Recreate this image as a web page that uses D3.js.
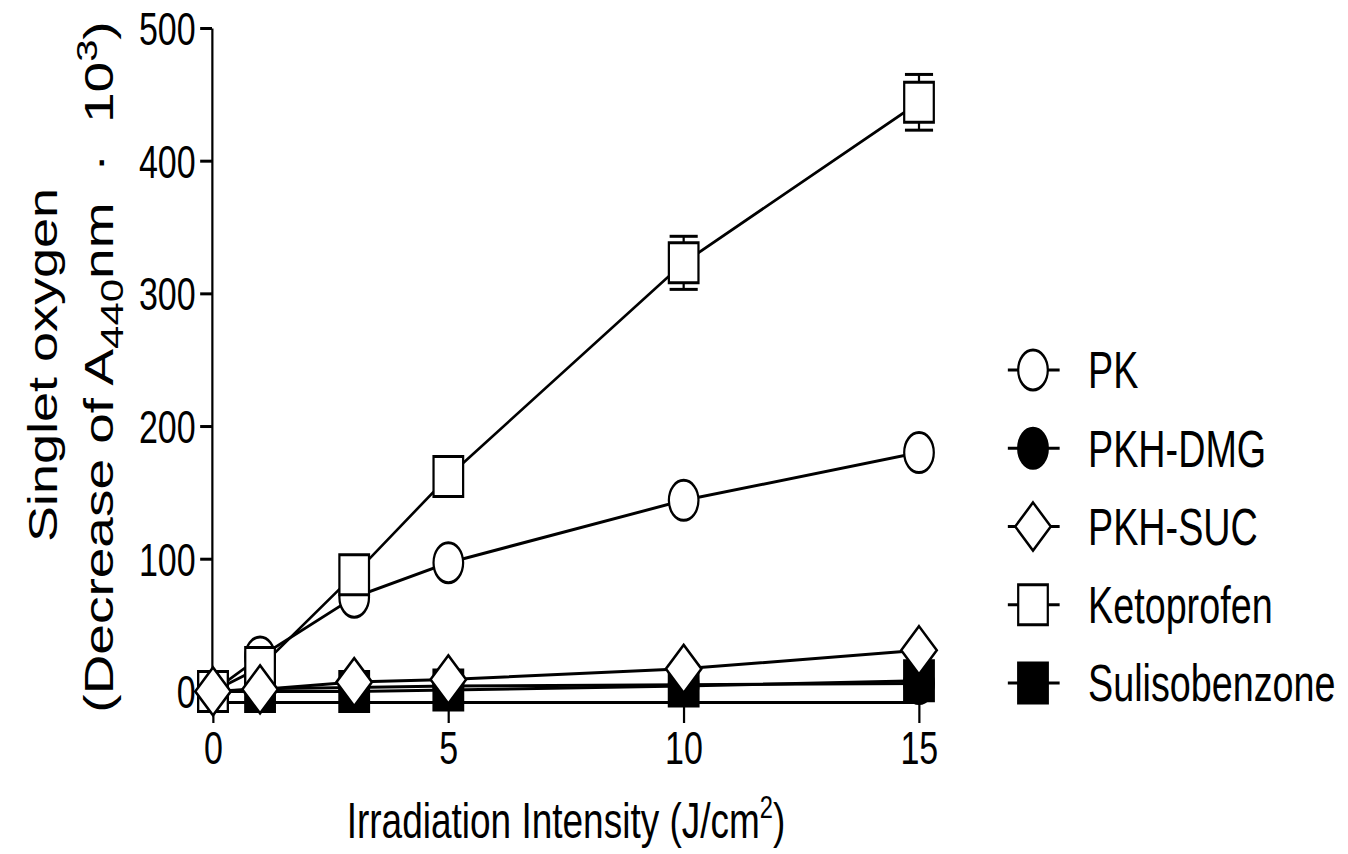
<!DOCTYPE html>
<html lang="en">
<head>
<meta charset="utf-8">
<title>Singlet oxygen</title>
<script src="https://cdnjs.cloudflare.com/ajax/libs/d3/7.8.5/d3.min.js"></script>
<style>
  body { margin: 0; background: #fff; }
  text { font-family: "Liberation Sans", Arial, sans-serif; fill: #000; }
</style>
</head>
<body>
<div id="chart"></div>
<script>
// irradiation intensity (J/cm2)
var xVals = [0, 1, 3, 5, 10, 15];
// decrease of A440nm x 10^3
var pk      = [0, 26, 71, 97, 144, 180];
var pkErr   = [0, 2, 3, 4, 5, 6];
var pkhDmg  = [0, 2, 3, 4, 5, 6];
var pkhSuc  = [0, 1.5, 7, 9, 17, 31];
var keto    = [0, 18, 88, 162, 323, 444];
var ketoErr = [0, 2, 3, 5, 20, 21];
var suliso  = [0, 0, 0, 1, 4, 8];
var seriesNames = ["PK", "PKH-DMG", "PKH-SUC", "Ketoprofen", "Sulisobenzone"];
var xTicks = [0, 5, 10, 15];
var yTicks = [0, 100, 200, 300, 400, 500];

var W = 1348, H = 854;
var sx = 0.74; // the whole figure is squeezed sideways

var series = [
  {name: seriesNames[0], values: pk,     err: pkErr, sym: d3.symbolCircle,   size: 1257, fill: "#fff"},
  {name: seriesNames[1], values: pkhDmg, err: null,  sym: d3.symbolCircle,   size: 1257, fill: "#000"},
  {name: seriesNames[2], values: pkhSuc, err: null,  sym: d3.symbolDiamond2, size: 1470, fill: "#fff"},
  {name: seriesNames[3], values: keto,   err: ketoErr, sym: d3.symbolSquare, size: 1600, fill: "#fff"},
  {name: seriesNames[4], values: suliso, err: null,  sym: d3.symbolSquare,   size: 1600, fill: "#000"}
];
// drawing order (bottom to top)
var drawOrder = [1, 4, 0, 3, 2];

var svg = d3.select("#chart").append("svg")
    .attr("width", W)
    .attr("height", H);

var g = svg.append("g").attr("transform", "scale(" + sx + ",1)");

var x = d3.scaleLinear().domain([0, 15]).range([213 / sx, 919 / sx]);
var y = d3.scaleLinear().domain([-8, 500]).range([702, 28]);

// axes
var yAxis = g.append("g")
    .attr("transform", "translate(" + (212 / sx) + ",0)")
    .call(d3.axisLeft(y).tickValues(yTicks).tickSize(16).tickSizeOuter(0).tickPadding(6));
var xAxis = g.append("g")
    .attr("transform", "translate(0," + y(-8) + ")")
    .call(d3.axisBottom(x).tickValues(xTicks).tickSize(21).tickSizeOuter(0).tickPadding(8));

[yAxis, xAxis].forEach(function(a) {
  a.selectAll("path, line").attr("stroke", "#000").attr("stroke-width", 3);
  a.selectAll("text")
    .style("font-family", "'Liberation Sans', Arial, sans-serif")
    .attr("font-size", 46)
    .attr("fill", "#000");
});
yAxis.selectAll("text").attr("dy", "0.36em");

// series
var line = d3.line()
    .x(function(d, i) { return x(xVals[i]); })
    .y(function(d) { return y(d); });

drawOrder.forEach(function(k) {
  var s = series[k];
  var sg = g.append("g");
  sg.append("path")
    .attr("d", line(s.values))
    .attr("fill", "none")
    .attr("stroke", "#000")
    .attr("stroke-width", 3);

  if (s.err) {
    var eb = sg.selectAll("g.err").data(s.values).enter().append("g");
    eb.append("line")
      .attr("x1", function(d, i) { return x(xVals[i]); })
      .attr("x2", function(d, i) { return x(xVals[i]); })
      .attr("y1", function(d, i) { return y(d - s.err[i]); })
      .attr("y2", function(d, i) { return y(d + s.err[i]); })
      .attr("stroke", "#000").attr("stroke-width", 3);
    [-1, 1].forEach(function(sign) {
      eb.append("line")
        .attr("x1", function(d, i) { return x(xVals[i]) - 19; })
        .attr("x2", function(d, i) { return x(xVals[i]) + 19; })
        .attr("y1", function(d, i) { return y(d + sign * s.err[i]); })
        .attr("y2", function(d, i) { return y(d + sign * s.err[i]); })
        .attr("stroke", "#000").attr("stroke-width", 3);
    });
  }

  sg.selectAll("path.pt").data(s.values).enter().append("path")
    .attr("class", "pt")
    .attr("d", d3.symbol().type(s.sym).size(s.size))
    .attr("transform", function(d, i) { return "translate(" + x(xVals[i]) + "," + y(d) + ")"; })
    .attr("fill", s.fill)
    .attr("stroke", "#000")
    .attr("stroke-width", 3);
});

// axis titles
var xt = g.append("text")
    .attr("x", (x(0) + x(15)) / 2)
    .attr("y", 838)
    .attr("text-anchor", "middle")
    .attr("font-size", 50);
xt.append("tspan").text("Irradiation Intensity (J/cm");
xt.append("tspan").attr("font-size", 32).attr("dy", -20).text("2");
xt.append("tspan").attr("dy", 20).text(")");

var yMid = (y(500) + y(-8)) / 2;
g.append("text")
    .attr("transform", "translate(" + (57 / sx) + "," + yMid + ") rotate(-90)")
    .attr("text-anchor", "middle")
    .attr("font-size", 54)
    .text("Singlet oxygen");

var yt = g.append("text")
    .attr("transform", "translate(" + (113 / sx) + "," + (yMid + 2) + ") rotate(-90)")
    .attr("text-anchor", "middle")
    .attr("font-size", 55);
yt.append("tspan").text("(Decrease of A");
yt.append("tspan").attr("font-size", 42).attr("dy", 13).text("440");
yt.append("tspan").attr("dy", -13).text("nm\u00A0\u00A0\u00B7\u00A0 10");
yt.append("tspan").attr("font-size", 40).attr("dy", -22).text("3");
yt.append("tspan").attr("dy", 22).text(")");

// legend
var legY = d3.scalePoint().domain(seriesNames).range([370, 683]);
var legX = 1033 / sx;
var leg = g.selectAll("g.leg").data(series).enter().append("g")
    .attr("transform", function(d) { return "translate(" + legX + "," + legY(d.name) + ")"; });
leg.append("line")
    .attr("x1", -34).attr("x2", 36)
    .attr("stroke", "#000").attr("stroke-width", 3);
leg.append("path")
    .attr("d", function(d) { return d3.symbol().type(d.sym).size(d.size)(); })
    .attr("fill", function(d) { return d.fill; })
    .attr("stroke", "#000")
    .attr("stroke-width", 3);
leg.append("text")
    .attr("x", (1088 - 1033) / sx)
    .attr("dy", "0.36em")
    .attr("font-size", 51)
    .text(function(d) { return d.name; });
</script>
</body>
</html>
